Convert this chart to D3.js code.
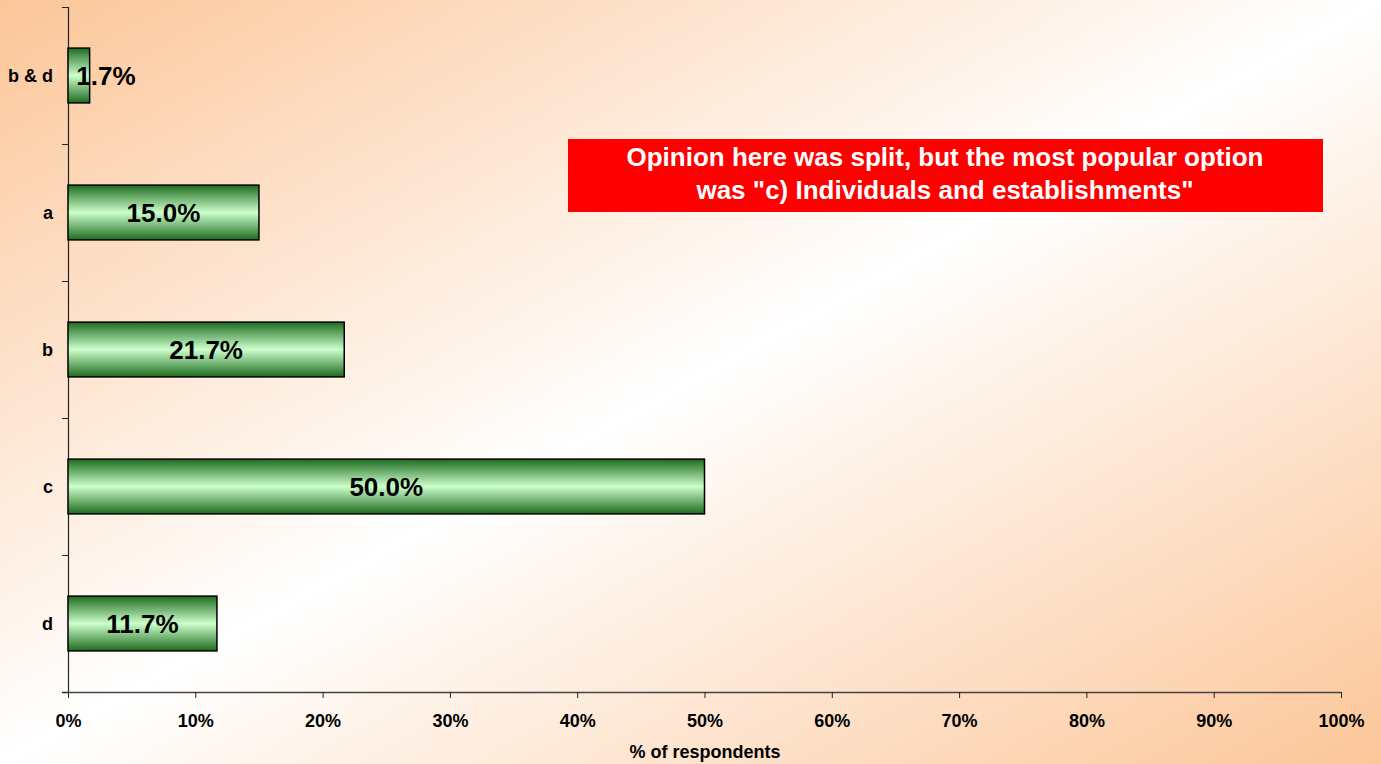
<!DOCTYPE html>
<html><head><meta charset="utf-8">
<script src="https://cdn.jsdelivr.net/npm/d3@7"></script>
<style>html,body{margin:0;padding:0;overflow:hidden;}svg{display:block;font-family:"Liberation Sans",Arial,sans-serif;}</style>
</head><body>
<script>
const categories = ["b & d", "a", "b", "c", "d"];
const values = [1.7, 15.0, 21.7, 50.0, 11.7];
const xTicks = [0, 10, 20, 30, 40, 50, 60, 70, 80, 90, 100];
const xTitle = "% of respondents";
const noteLines = ["Opinion here was split, but the most popular option", "was \"c) Individuals and establishments\""];

const W = 1381, H = 764;
const svg = d3.select("body").append("svg").attr("width", W).attr("height", H);
const defs = svg.append("defs");
const bg = defs.append("linearGradient").attr("id","bg").attr("x1","0").attr("y1","0").attr("x2","1").attr("y2","1");
bg.append("stop").attr("offset","0").attr("stop-color","#fcc699");
bg.append("stop").attr("offset","0.5").attr("stop-color","#ffffff");
bg.append("stop").attr("offset","1").attr("stop-color","#fcc699");
const bar = defs.append("linearGradient").attr("id","bar").attr("x1","0").attr("y1","0").attr("x2","0").attr("y2","1");
bar.append("stop").attr("offset","0").attr("stop-color","#1e6b1e");
bar.append("stop").attr("offset","0.5").attr("stop-color","#ccffcc");
bar.append("stop").attr("offset","1").attr("stop-color","#1e6b1e");

svg.append("rect").attr("width",W).attr("height",H).attr("fill","url(#bg)");

const x = d3.scaleLinear().domain([0,100]).range([68,1341]);
const y = d3.scaleBand().domain(categories).range([7,692]).paddingInner(0.6).paddingOuter(0.3);

// x axis
const xa = svg.append("g").attr("transform","translate(0,692)")
  .call(d3.axisBottom(x).tickValues(xTicks).tickSize(6).tickSizeOuter(0).tickFormat(d=>d+"%"));
xa.select(".domain").attr("stroke","#444").attr("stroke-width",1.5).attr("d","M62,0.5H1341");
xa.selectAll(".tick line").attr("stroke","#222");
xa.selectAll(".tick text").attr("fill","#000").attr("font-size",18).attr("font-weight","bold").attr("dy","0").attr("y",35);

// y axis
const step = y.step();
const bounds = d3.range(categories.length+1).map(i => 7 + i*step);
svg.append("line").attr("x1",68.5).attr("x2",68.5).attr("y1",7).attr("y2",692).attr("stroke","#222").attr("stroke-width",1.2);
svg.selectAll(".ytick").data(bounds).join("line").attr("x1",62).attr("x2",68).attr("y1",d=>d+0.5).attr("y2",d=>d+0.5).attr("stroke","#222");

svg.selectAll(".ylab").data(categories).join("text")
  .attr("x",53).attr("y",d=>y(d)+y.bandwidth()/2).attr("dy","0.35em")
  .attr("text-anchor","end").attr("font-size",18).attr("font-weight","bold").text(d=>d);

// bars
svg.selectAll(".bar").data(categories).join("rect")
  .attr("x",x(0)).attr("y",d=>y(d)).attr("width",(d,i)=>x(values[i])-x(0)).attr("height",y.bandwidth())
  .attr("fill","url(#bar)").attr("stroke","#000").attr("stroke-width",1.5);

svg.selectAll(".vlab").data(categories).join("text")
  .attr("x",(d,i)=>{const c=(x(values[i])+x(0))/2; return Math.max(c, x(0)+38);})
  .attr("y",d=>y(d)+y.bandwidth()/2).attr("dy","0.36em")
  .attr("text-anchor","middle").attr("font-size",26).attr("font-weight","bold")
  .text((d,i)=>values[i].toFixed(1)+"%");

// x title
svg.append("text").attr("x",705).attr("y",758).attr("text-anchor","middle")
  .attr("font-size",18).attr("font-weight","bold").text(xTitle);

// note
svg.append("rect").attr("x",568).attr("y",139).attr("width",755).attr("height",73).attr("fill","#ff0000");
svg.selectAll(".note").data(noteLines).join("text")
  .attr("x",945).attr("y",(d,i)=>166+i*33).attr("text-anchor","middle")
  .attr("fill","#fff").attr("font-size",26).attr("font-weight","bold").text(d=>d);
</script>
</body></html>
